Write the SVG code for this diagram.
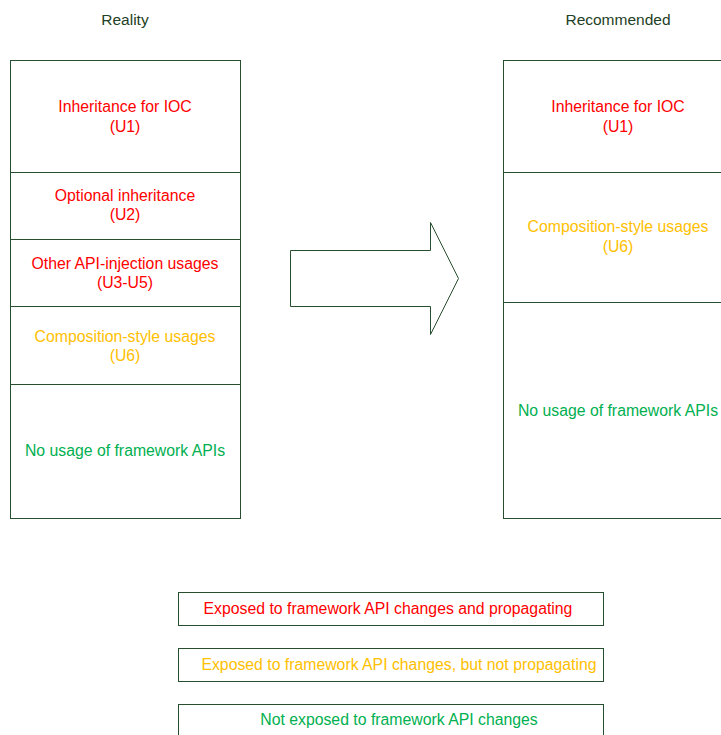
<svg xmlns="http://www.w3.org/2000/svg" width="721" height="735" viewBox="0 0 721 735">
<style>
.box{fill:#fff;stroke:#274E2E;stroke-width:1}
text{font-family:"Liberation Sans",Arial,sans-serif;font-size:15.8px;text-anchor:middle}
.t{fill:#1E4024;font-size:15.5px}
.r{fill:#FF0000}
.o{fill:#FFC000}
.g{fill:#00B050}
</style>
<rect width="721" height="735" fill="#fff"/>
<g id="reality">
<text class="t" x="125" y="25">Reality</text>
<g id="l-u1"><rect class="box" x="10.5" y="60.5" width="230" height="112"/><text class="r" x="125" y="112">Inheritance for IOC</text><text class="r" x="125" y="132">(U1)</text></g>
<g id="l-u2"><rect class="box" x="10.5" y="172.5" width="230" height="67"/><text class="r" x="125" y="201">Optional inheritance</text><text class="r" x="125" y="220">(U2)</text></g>
<g id="l-u3"><rect class="box" x="10.5" y="239.5" width="230" height="67"/><text class="r" x="125" y="269">Other API-injection usages</text><text class="r" x="125" y="288">(U3-U5)</text></g>
<g id="l-u6"><rect class="box" x="10.5" y="306.5" width="230" height="78"/><text class="o" x="125" y="342">Composition-style usages</text><text class="o" x="125" y="361">(U6)</text></g>
<g id="l-none"><rect class="box" x="10.5" y="384.5" width="230" height="134"/><text class="g" x="125" y="456">No usage of framework APIs</text></g>
</g>
<g id="connectors">
<path class="box" d="M290.5,250.5 H430.5 V222.5 L458.5,278.5 L430.5,334.5 V306.5 H290.5 Z"/>
</g>
<g id="recommended">
<text class="t" x="618" y="25">Recommended</text>
<g id="r-u1"><rect class="box" x="503.5" y="60.5" width="230" height="112"/><text class="r" x="618" y="112">Inheritance for IOC</text><text class="r" x="618" y="132">(U1)</text></g>
<g id="r-u6"><rect class="box" x="503.5" y="172.5" width="230" height="130"/><text class="o" x="618" y="232">Composition-style usages</text><text class="o" x="618" y="252">(U6)</text></g>
<g id="r-none"><rect class="box" x="503.5" y="302.5" width="230" height="216"/><text class="g" x="618" y="416">No usage of framework APIs</text></g>
</g>
<g id="legend">
<g id="leg1"><rect class="box" x="178.5" y="592.5" width="425" height="33"/><text class="r" x="388" y="614">Exposed to framework API changes and propagating</text></g>
<g id="leg2"><rect class="box" x="178.5" y="648.5" width="425" height="33"/><text class="o" x="399" y="670">Exposed to framework API changes, but not propagating</text></g>
<g id="leg3"><rect class="box" x="178.5" y="704.5" width="425" height="33"/><text class="g" x="399" y="725">Not exposed to framework API changes</text></g>
</g>
</svg>
